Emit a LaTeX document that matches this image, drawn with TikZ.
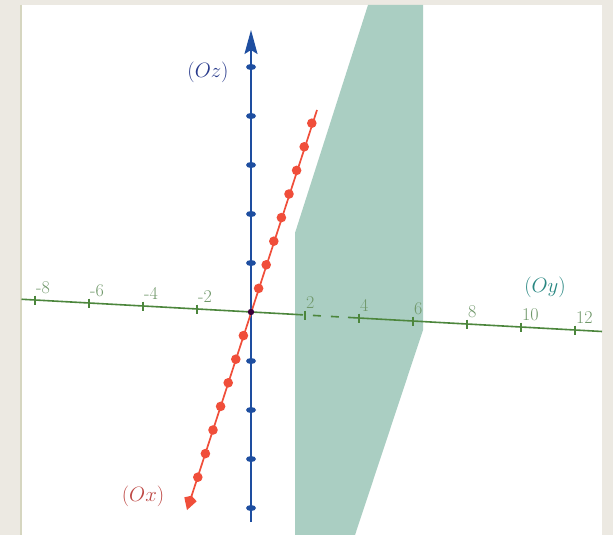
\documentclass[tikz,border=0pt]{standalone}
\usepackage{amsmath}
\usepackage{tikz}
\usetikzlibrary{arrows.meta}

\definecolor{fond}{RGB}{236,233,226}
\definecolor{bord}{RGB}{214,214,192}
\definecolor{plan}{RGB}{170,206,194}
\definecolor{axez}{RGB}{30,78,160}
\definecolor{axex}{RGB}{240,78,58}
\definecolor{axey}{RGB}{76,134,60}
\definecolor{grady}{RGB}{112,152,106}
\definecolor{nomz}{RGB}{40,58,140}
\definecolor{nomy}{RGB}{40,135,130}
\definecolor{nomx}{RGB}{190,72,68}

\begin{document}
\begin{tikzpicture}[x=1pt, y=-1pt, every node/.style={inner sep=0pt}]
  \useasboundingbox (0,0) rectangle (613,535);
  % Cadre
  \fill[fond] (0,0) rectangle (613,535);
  \fill[white] (20,5) rectangle (602,535);
  \draw[bord, line width=1.5pt] (21,5) -- (21,535);

  % Plan
  \fill[plan] (295,535) -- (295,233) -- (368,5) -- (423,5) -- (423,330) -- (355,535) -- cycle;

  \begin{scope}[shift={(251,312)}]
    \coordinate (O) at (0,0);

    % Axe (Oy)
    \coordinate (yleft) at (-229.5,-12.75);
    \coordinate (ycut1) at (44,2.4);
    \coordinate (ycut2) at (97,5.4);
    \coordinate (yright) at (351,19.5);
    \draw[axey, line width=1.6pt] (yleft) -- (ycut1);
    \draw[axey, line width=1.6pt, dash pattern=on 8pt off 10pt] (ycut1) -- (ycut2);
    \draw[axey, line width=1.6pt] (ycut2) -- (yright);
    \foreach \k in {-8,-6,-4,-2,2,4,6,8,10,12} {
      \draw[axey, line width=2pt] ({27*\k},{1.5*\k-4.5}) -- ({27*\k},{1.5*\k+4.5});
      \node[grady, anchor=south west, font=\fontsize{18}{20}\selectfont] (gy\k) at ({27*\k+1},{1.5*\k-6}) {\k};
    }

    % Axe (Oz)
    \coordinate (ztop) at (0,-282);
    \coordinate (zbot) at (0,210);
    \draw[axez, line width=1.7pt, -{Stealth[length=24pt,width=13pt,inset=4pt]}] (zbot) -- (ztop);
    \foreach \k in {-4,...,-1,1,2,...,5}
      \fill[axez] (0,{-49*\k}) ellipse (5pt and 3pt);

    % Axe (Ox)
    \coordinate (xtop) at (66,-202);
    \coordinate (xbot) at (-64,198);
    \draw[axex, line width=1.7pt, -{Kite[length=15pt,width=13pt]}] (xtop) -- (xbot);
    \foreach \k in {-7,...,-1,1,2,...,8}
      \fill[axex] ({7.6*\k},{-23.6*\k}) circle (4.8pt);

    % Origine
    \fill[black!55!violet] (O) circle (3.2pt);
  \end{scope}

  % Noms des axes
  \node[nomz, font=\fontsize{21}{24}\selectfont] (lblz) at (208,72) {$(Oz)$};
  \node[nomy, font=\fontsize{21}{24}\selectfont] (lbly) at (545,287) {$(Oy)$};
  \node[nomx, font=\fontsize{21}{24}\selectfont] (lblx) at (143,496) {$(Ox)$};
\end{tikzpicture}
\end{document}
